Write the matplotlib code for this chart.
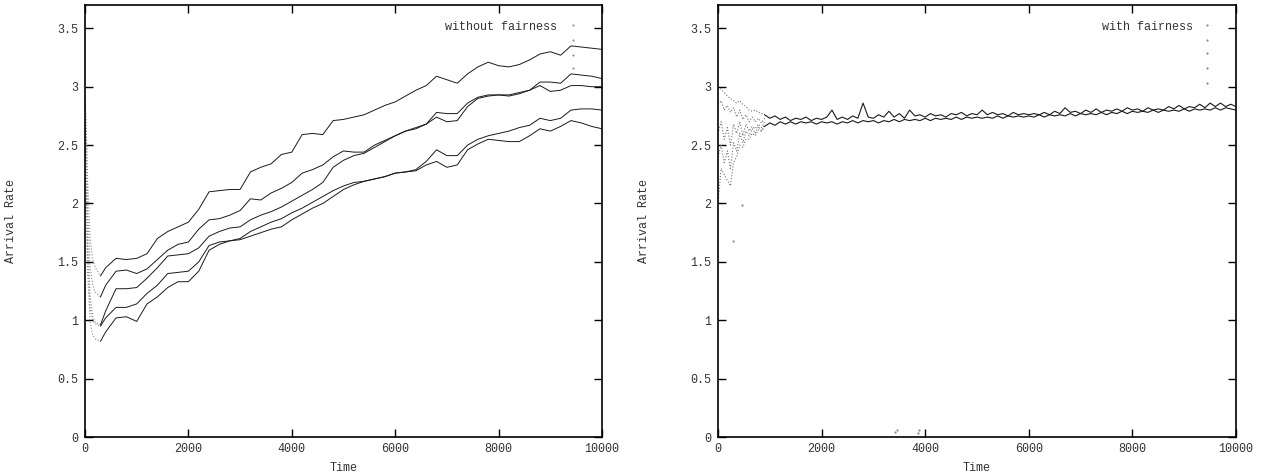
import numpy as np
import matplotlib
matplotlib.use("Agg")
import matplotlib.pyplot as plt

plt.rcParams['font.family'] = ['Liberation Mono', 'DejaVu Sans Mono']

# ---- left panel: five sources, without fairness ----
t_left = [0, 20, 50, 100, 150, 200, 300, 400, 600, 800, 1000, 1200, 1400, 1600,
          1800, 2000, 2200, 2400, 2600, 2800, 3000, 3200, 3400, 3600, 3800, 4000,
          4200, 4400, 4600, 4800, 5000, 5200, 5400, 5600, 5800, 6000, 6200, 6400,
          6600, 6800, 7000, 7200, 7400, 7600, 7800, 8000, 8200, 8400, 8600, 8800,
          9000, 9200, 9400, 9600, 9800, 10000]

src_a = [2.95, 2.70, 2.20, 1.70, 1.52, 1.45, 1.38, 1.45, 1.53, 1.52, 1.53, 1.57, 1.70, 1.76,
         1.80, 1.84, 1.95, 2.10, 2.11, 2.12, 2.12, 2.27, 2.31, 2.34, 2.42, 2.44,
         2.59, 2.60, 2.59, 2.71, 2.72, 2.74, 2.76, 2.80, 2.84, 2.87, 2.92, 2.97,
         3.01, 3.09, 3.06, 3.03, 3.11, 3.17, 3.21, 3.18, 3.17, 3.19, 3.23, 3.28,
         3.30, 3.27, 3.35, 3.34, 3.33, 3.32]
src_b = [2.90, 2.55, 1.95, 1.45, 1.30, 1.24, 1.20, 1.30, 1.42, 1.43, 1.40, 1.44, 1.52, 1.60,
         1.65, 1.67, 1.78, 1.86, 1.87, 1.90, 1.94, 2.04, 2.03, 2.09, 2.13, 2.18,
         2.26, 2.29, 2.33, 2.40, 2.45, 2.44, 2.44, 2.50, 2.54, 2.58, 2.62, 2.65,
         2.68, 2.78, 2.77, 2.77, 2.86, 2.91, 2.93, 2.93, 2.93, 2.95, 2.97, 3.04,
         3.04, 3.03, 3.11, 3.10, 3.09, 3.07]
src_c = [2.85, 2.40, 1.70, 1.20, 1.03, 0.98, 0.96, 1.08, 1.27, 1.27, 1.28, 1.36, 1.45, 1.55,
         1.56, 1.57, 1.62, 1.72, 1.76, 1.79, 1.80, 1.86, 1.90, 1.93, 1.97, 2.02,
         2.07, 2.12, 2.18, 2.31, 2.37, 2.41, 2.43, 2.48, 2.53, 2.58, 2.62, 2.64,
         2.68, 2.74, 2.70, 2.71, 2.83, 2.90, 2.92, 2.93, 2.92, 2.94, 2.97, 3.01,
         2.96, 2.97, 3.01, 3.01, 3.00, 3.00]
src_d = [2.80, 2.30, 1.55, 1.10, 1.00, 0.97, 0.95, 1.02, 1.11, 1.11, 1.14, 1.23, 1.30, 1.40,
         1.41, 1.42, 1.50, 1.64, 1.67, 1.68, 1.70, 1.76, 1.80, 1.84, 1.87, 1.92,
         1.96, 2.01, 2.06, 2.11, 2.15, 2.18, 2.19, 2.21, 2.23, 2.26, 2.27, 2.29,
         2.36, 2.46, 2.41, 2.41, 2.50, 2.55, 2.58, 2.60, 2.62, 2.65, 2.67, 2.73,
         2.71, 2.73, 2.80, 2.81, 2.81, 2.80]
src_e = [2.75, 2.15, 1.40, 0.98, 0.87, 0.84, 0.82, 0.90, 1.02, 1.03, 0.99, 1.14, 1.20, 1.28,
         1.33, 1.33, 1.42, 1.60, 1.65, 1.68, 1.69, 1.72, 1.75, 1.78, 1.80, 1.86,
         1.91, 1.96, 2.00, 2.06, 2.12, 2.16, 2.19, 2.21, 2.23, 2.26, 2.27, 2.28,
         2.33, 2.36, 2.31, 2.33, 2.46, 2.51, 2.55, 2.54, 2.53, 2.53, 2.58, 2.64,
         2.62, 2.66, 2.71, 2.69, 2.66, 2.64]

left_stray_t = [9430, 9430, 9430, 9430]
left_stray_v = [3.53, 3.40, 3.27, 3.16]

# ---- right panel: with fairness ----
t_fan = [0, 60, 120, 180, 240, 300, 360, 420, 480, 540, 600, 660, 720, 780, 840, 900]
fan_1 = [3.00, 2.98, 2.95, 2.92, 2.90, 2.88, 2.86, 2.88, 2.85, 2.83, 2.80, 2.79, 2.80, 2.78, 2.77, 2.76]
fan_2 = [2.85, 2.88, 2.80, 2.84, 2.78, 2.82, 2.74, 2.80, 2.72, 2.76, 2.70, 2.74, 2.70, 2.73, 2.69, 2.73]
fan_3 = [2.60, 2.70, 2.55, 2.65, 2.50, 2.68, 2.60, 2.70, 2.58, 2.68, 2.62, 2.66, 2.64, 2.68, 2.65, 2.70]
fan_4 = [2.40, 2.50, 2.35, 2.45, 2.30, 2.52, 2.45, 2.60, 2.52, 2.62, 2.58, 2.64, 2.60, 2.66, 2.62, 2.68]
fan_5 = [2.00, 2.30, 2.25, 2.20, 2.15, 2.35, 2.40, 2.50, 2.48, 2.55, 2.55, 2.60, 2.58, 2.63, 2.62, 2.66]

t_band = list(range(900, 10001, 100))
band_hi = [2.76, 2.73, 2.75, 2.72, 2.74, 2.71, 2.73, 2.72, 2.74, 2.71, 2.73, 2.72, 2.74, 2.80,
           2.72, 2.74, 2.72, 2.75, 2.73, 2.86, 2.74, 2.73, 2.76, 2.74, 2.79, 2.74, 2.77,
           2.73, 2.80, 2.75, 2.76, 2.74, 2.77, 2.75, 2.76, 2.74, 2.77, 2.76, 2.78, 2.75,
           2.77, 2.76, 2.80, 2.76, 2.78, 2.76, 2.77, 2.75, 2.78, 2.76, 2.77, 2.76, 2.77,
           2.76, 2.78, 2.76, 2.79, 2.77, 2.82, 2.78, 2.79, 2.77, 2.80, 2.78, 2.81, 2.78,
           2.80, 2.79, 2.81, 2.79, 2.82, 2.80, 2.81, 2.79, 2.82, 2.80, 2.81, 2.80, 2.83,
           2.81, 2.84, 2.81, 2.83, 2.82, 2.85, 2.82, 2.86, 2.83, 2.86, 2.83, 2.85, 2.83]
band_lo = [2.66, 2.69, 2.67, 2.70, 2.68, 2.70, 2.68, 2.70, 2.69, 2.70, 2.68, 2.70, 2.69, 2.70,
           2.68, 2.70, 2.69, 2.71, 2.69, 2.71, 2.70, 2.71, 2.69, 2.71, 2.70, 2.72, 2.70,
           2.72, 2.71, 2.72, 2.71, 2.73, 2.71, 2.73, 2.72, 2.73, 2.72, 2.74, 2.72, 2.74,
           2.73, 2.74, 2.73, 2.74, 2.73, 2.75, 2.73, 2.75, 2.74, 2.75, 2.74, 2.75, 2.74,
           2.76, 2.74, 2.76, 2.75, 2.76, 2.75, 2.77, 2.75, 2.77, 2.76, 2.77, 2.76, 2.78,
           2.76, 2.78, 2.77, 2.79, 2.77, 2.79, 2.78, 2.79, 2.78, 2.80, 2.78, 2.80, 2.79,
           2.80, 2.79, 2.81, 2.79, 2.81, 2.80, 2.81, 2.80, 2.82, 2.80, 2.82, 2.81, 2.80]

right_stray_t = [290, 463, 3420, 3450, 3860, 3880, 9445, 9445, 9445, 9445, 9445]
right_stray_v = [1.68, 1.99, 0.04, 0.06, 0.03, 0.06, 3.53, 3.40, 3.29, 3.16, 3.03]

xticks = [0, 2000, 4000, 6000, 8000, 10000]
yticks = [0, 0.5, 1, 1.5, 2, 2.5, 3, 3.5]
ytick_labels = ['0', '0.5', '1', '1.5', '2', '2.5', '3', '3.5']

W, H = 1268, 476
fig = plt.figure(figsize=(W / 100, H / 100), dpi=100)
ax1 = fig.add_axes([85 / W, 1 - 437 / H, 517 / W, 432 / H])
ax2 = fig.add_axes([718 / W, 1 - 437 / H, 518 / W, 432 / H])

ink = '#1a1a1a'
n0 = 7  # steep start-up part drawn as sparse dots
for s in (src_a, src_b, src_c, src_d, src_e):
    ax1.plot(t_left[:n0], s[:n0], ls=':', lw=0.8, color='0.55')
    ax1.plot(t_left[n0 - 1:], s[n0 - 1:], lw=0.7, color=ink)
ax1.plot(left_stray_t, left_stray_v, ls='none', marker='.', ms=1.0, color='0.5')

for s in (fan_1, fan_2, fan_3, fan_4, fan_5):
    ax2.plot(t_fan, s, ls=':', lw=0.8, color='0.45')
ax2.plot(t_band, band_hi, lw=0.8, color=ink)
ax2.plot(t_band, band_lo, lw=0.8, color=ink)
ax2.plot(right_stray_t, right_stray_v, ls='none', marker='.', ms=1.0, color='0.45')

for ax in (ax1, ax2):
    ax.set_xlim(0, 10000)
    ax.set_ylim(0, 3.7)
    ax.set_xticks(xticks)
    ax.set_xticklabels([str(x) for x in xticks])
    ax.set_yticks(yticks)
    ax.set_yticklabels(ytick_labels)
    ax.tick_params(direction='in', length=6, width=1, top=True, right=True,
                   labelsize=8.5, labelcolor='#333333')
    ax.tick_params(axis='x', pad=4)
    ax.tick_params(axis='y', pad=5)
    for sp in ax.spines.values():
        sp.set_linewidth(1.2)
    ax.set_xlabel('Time', fontsize=8.5, color='#333333')
    ax.xaxis.set_label_coords(0.5, -0.058)
    ax.set_ylabel('Arrival Rate', fontsize=8.5, color='#333333')
    ax.yaxis.set_label_coords(-0.132, 0.5)

ax1.text(9138, 3.51, 'without fairness', ha='right', va='center', fontsize=8.5, color='#333333')
ax2.text(9177, 3.51, 'with fairness', ha='right', va='center', fontsize=8.5, color='#333333')

fig.savefig('out.png', dpi=100)
